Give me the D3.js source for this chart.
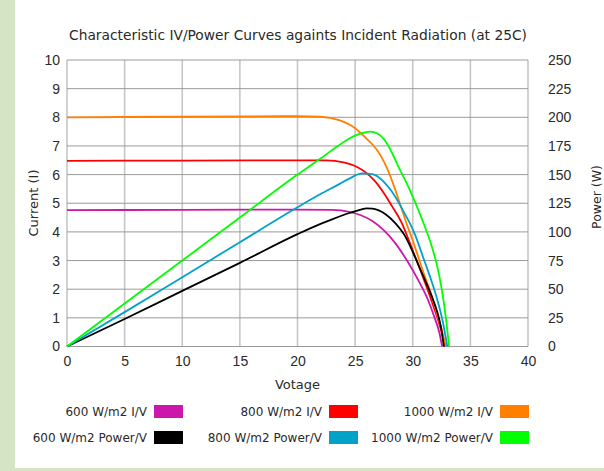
<!DOCTYPE html>
<html>
<head>
<meta charset="utf-8">
<script src="https://cdn.jsdelivr.net/npm/d3@7/dist/d3.min.js"></script>
<style>
  body { margin: 0; background: #fff; }
  svg { display: block; font-family: "DejaVu Sans", sans-serif; }
  .axis text { font-size: 14px; fill: #2a2a2a; }
  .axis .domain { display: none; }
</style>
</head>
<body>
<div id="chart"></div>
<script>
// tick labels
var voltTicks = [0, 5, 10, 15, 20, 25, 30, 35, 40];
var currentTicks = [0, 1, 2, 3, 4, 5, 6, 7, 8, 9, 10];
var powerTicks = [0, 25, 50, 75, 100, 125, 150, 175, 200, 225, 250];

// I/V curves: [voltage, current (A)]
var iv600 = [[0, 4.76], [10, 4.77], [20, 4.78], [23, 4.77], [24.5, 4.7], [25.5, 4.58], [26.5, 4.38],
  [27.5, 4.05], [28.5, 3.6], [29.5, 3.0], [30.5, 2.3], [31.3, 1.65], [31.9, 1.0], [32.3, 0.5], [32.55, 0]];
var iv800 = [[0, 6.48], [10, 6.49], [20, 6.5], [22.5, 6.5], [24, 6.43], [25, 6.3], [26, 6.05], [26.7, 5.78],
  [27.5, 5.35], [28.2, 4.9], [29, 4.35], [30, 3.35], [31, 2.3], [31.8, 1.4], [32.4, 0.65], [32.78, 0]];
var iv1000 = [[0, 8.0], [10, 8.02], [20, 8.04], [22, 8.02], [23.6, 7.9], [25, 7.62], [26, 7.25], [26.5, 7.05],
  [27, 6.8], [27.5, 6.45], [28, 6.0], [28.5, 5.45], [29, 4.85], [29.5, 4.25], [30, 3.7], [30.5, 3.1],
  [31, 2.5], [31.5, 1.95], [32, 1.3], [32.5, 0.6], [32.88, 0]];

// Power curves: [voltage, power (W)]
var pw600 = [[0, 0], [5, 24], [10, 48.5], [15, 73], [20, 98], [22, 107], [23, 111], [24.5, 116.5], [25.5, 119.5],
  [26, 120.5], [26.5, 120.3], [27, 119], [27.7, 115], [28.5, 107.5], [29.3, 97], [30.2, 78], [30.8, 64],
  [31.4, 50], [31.9, 37], [32.27, 25], [32.5, 14], [32.7, 0]];
var pw800 = [[0, 0], [5, 30], [10, 60.5], [15, 91], [20, 121.5], [22, 133], [23.5, 141], [24.5, 146.5],
  [25.6, 151], [26.5, 150.5], [27, 148], [28.2, 135], [29.3, 116], [30.1, 100], [31, 75], [31.6, 58],
  [32.1, 42], [32.6, 22], [33, 0]];
var pw1000 = [[0, 0], [5, 37.5], [10, 75], [15, 112.5], [20, 150], [22, 164], [23.5, 175], [24.5, 181.5],
  [25.5, 186], [26.3, 187.5], [27, 185.5], [27.5, 181], [28, 173], [28.75, 157], [29.5, 142], [30.2, 126],
  [31, 106], [31.6, 89], [32.1, 71], [32.5, 51], [32.85, 27], [33.15, 0]];

var seriesNames = ["600 W/m2 I/V", "800 W/m2 I/V", "1000 W/m2 I/V",
                   "600 W/m2 Power/V", "800 W/m2 Power/V", "1000 W/m2 Power/V"];

var width = 604, height = 471;
var margin = {top: 60, right: 76, bottom: 124.5, left: 67};
var w = width - margin.left - margin.right,
    h = height - margin.top - margin.bottom;

var svg = d3.select("#chart").append("svg")
    .attr("width", width)
    .attr("height", height);

// page decoration
svg.append("rect").attr("x", 0).attr("y", 0).attr("width", 15).attr("height", height).attr("fill", "#d6e4c6");
svg.append("rect").attr("x", 0).attr("y", 468).attr("width", width).attr("height", 3).attr("fill", "#d6e4c6");

var g = svg.append("g")
    .attr("transform", "translate(" + margin.left + "," + margin.top + ")");

var x = d3.scaleLinear().domain([0, 40]).range([0, w]);
var yI = d3.scaleLinear().domain([0, 10]).range([h, 0]);
var yP = d3.scaleLinear().domain([0, 250]).range([h, 0]);

// grid
g.append("g").selectAll("line").data(voltTicks)
  .enter().append("line")
    .attr("x1", function (d) { return x(d); })
    .attr("x2", function (d) { return x(d); })
    .attr("y1", 0).attr("y2", h)
    .style("stroke", "#c6c6c6")
    .style("stroke-width", 1.6);

g.append("g").selectAll("line").data(currentTicks)
  .enter().append("line")
    .attr("x1", 0).attr("x2", w)
    .attr("y1", function (d) { return yI(d); })
    .attr("y2", function (d) { return yI(d); })
    .style("stroke", "#9a9a9a")
    .style("stroke-width", 1);

// axes
g.append("g")
    .attr("class", "axis")
    .attr("transform", "translate(0," + h + ")")
    .call(d3.axisBottom(x).tickValues(voltTicks).tickSize(0).tickPadding(10));

g.append("g")
    .attr("class", "axis")
    .call(d3.axisLeft(yI).tickValues(currentTicks).tickSize(0).tickPadding(7));

g.append("g")
    .attr("class", "axis")
    .attr("transform", "translate(" + w + ",0)")
    .call(d3.axisRight(yP).tickValues(powerTicks).tickSize(0).tickPadding(20));

// labels
svg.append("text")
    .attr("x", 298).attr("y", 40)
    .attr("text-anchor", "middle")
    .style("font-size", "13.8px").style("fill", "#2a2a2a")
    .text("Characteristic IV/Power Curves againts Incident Radiation (at 25C)");

svg.append("text")
    .attr("x", margin.left + w / 2).attr("y", 389)
    .attr("text-anchor", "middle")
    .style("font-size", "13px").style("fill", "#2a2a2a")
    .text("Votage");

svg.append("text")
    .attr("transform", "translate(38,203) rotate(-90)")
    .attr("text-anchor", "middle")
    .style("font-size", "13px").style("fill", "#2a2a2a")
    .text("Current (I)");

svg.append("text")
    .attr("transform", "translate(601,197) rotate(-90)")
    .attr("text-anchor", "middle")
    .style("font-size", "12.5px").style("fill", "#2a2a2a")
    .text("Power (W)");

// curves
var lineI = d3.line()
    .x(function (d) { return x(d[0]); })
    .y(function (d) { return yI(d[1]); })
    .curve(d3.curveMonotoneX);

var lineP = d3.line()
    .x(function (d) { return x(d[0]); })
    .y(function (d) { return yP(d[1]); })
    .curve(d3.curveMonotoneX);

var colors = ["#cc16ac", "#ff0000", "#ff8000", "#000000", "#00a2c8", "#00ff00"];

var curves = [
  {data: iv600, line: lineI}, {data: iv800, line: lineI}, {data: iv1000, line: lineI},
  {data: pw600, line: lineP}, {data: pw800, line: lineP}, {data: pw1000, line: lineP}
];

g.selectAll(".curve").data(curves)
  .enter().append("path")
    .attr("class", "curve")
    .attr("d", function (d) { return d.line(d.data); })
    .style("fill", "none")
    .style("stroke", function (d, i) { return colors[i]; })
    .style("stroke-width", 1.8);

// legend
var colX = [154, 329, 500];
var rowY = [405, 431];

var legend = svg.append("g").attr("class", "legend");
var items = legend.selectAll("g").data(seriesNames)
  .enter().append("g")
    .attr("transform", function (d, i) {
      return "translate(" + colX[i % 3] + "," + rowY[Math.floor(i / 3)] + ")";
    });

items.append("rect")
    .attr("width", 29).attr("height", 13)
    .style("fill", function (d, i) { return colors[i]; });

items.append("text")
    .attr("x", -7).attr("y", 11)
    .attr("text-anchor", "end")
    .style("font-size", "12px").style("fill", "#2a2a2a")
    .text(function (d) { return d; });
</script>
</body>
</html>
